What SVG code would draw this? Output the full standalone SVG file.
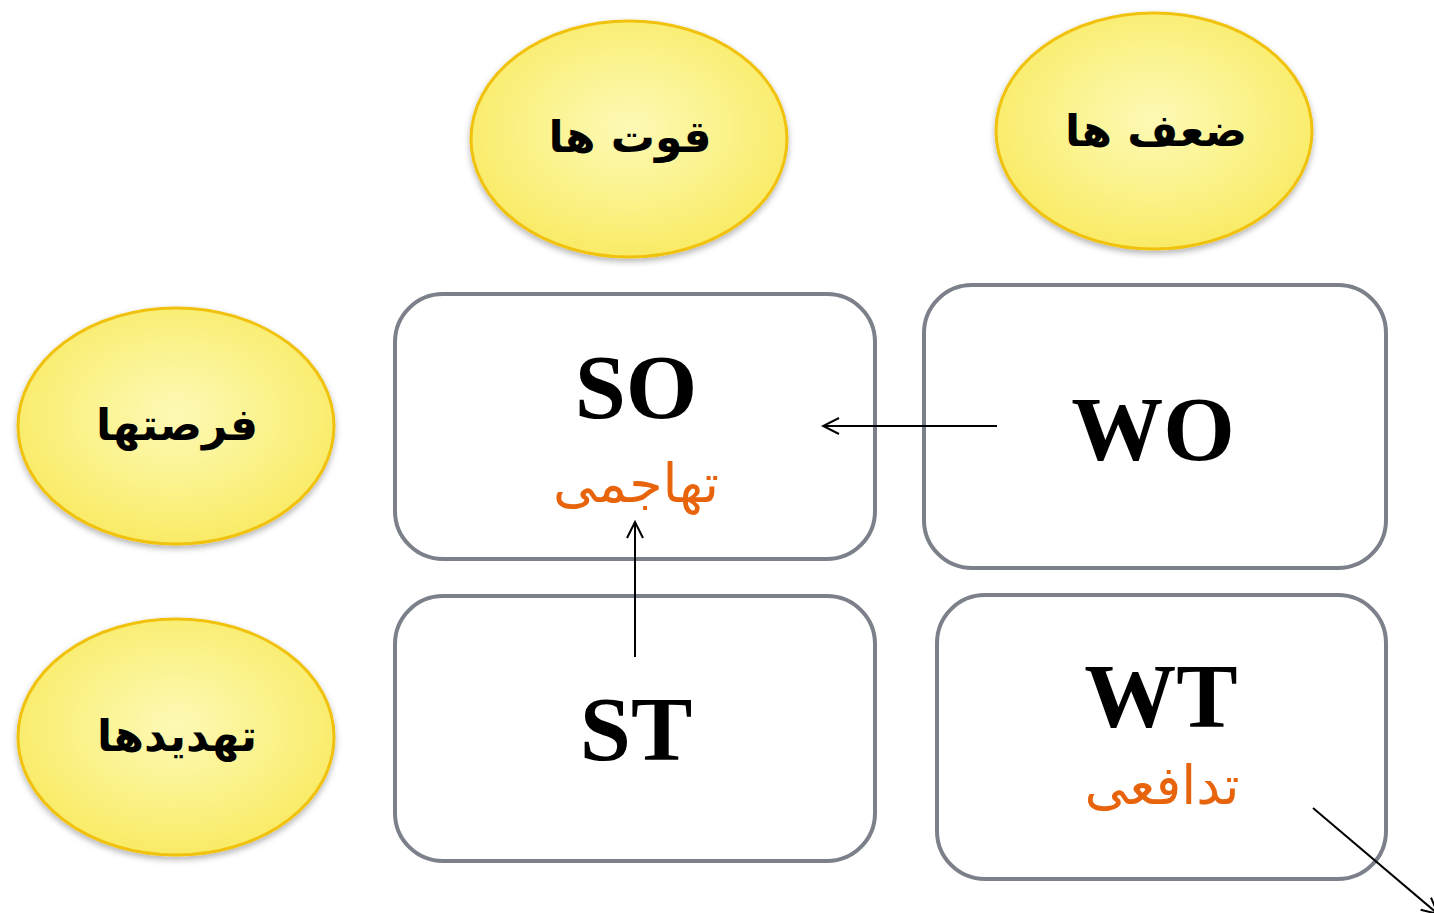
<svg xmlns="http://www.w3.org/2000/svg" width="1434" height="913" viewBox="0 0 1434 913">
  <style>
    .oval { fill: url(#ovalFill); stroke: #f1c20f; stroke-width: 3; filter: url(#soft); }
    .box { fill: #ffffff; stroke: #7b808a; stroke-width: 4; }
    .lbl { font-family: "DejaVu Sans", "Liberation Sans", sans-serif; font-weight: bold; font-size: 44px; fill: #000000; text-anchor: middle; direction: rtl; }
    .code { font-family: "Liberation Serif", "Times New Roman", serif; font-weight: bold; font-size: 92px; fill: #000000; text-anchor: middle; }
    .sub { font-family: "DejaVu Sans", "Liberation Serif", serif; font-size: 54px; fill: #e7640c; text-anchor: middle; direction: rtl; }
    .link { stroke: #000000; stroke-width: 2; fill: none; marker-end: url(#open); }
  </style>
  <defs>
    <radialGradient id="ovalFill" cx="50%" cy="45%" r="55%">
      <stop offset="0" stop-color="#fdf9b6"/>
      <stop offset="0.5" stop-color="#fbf38f"/>
      <stop offset="1" stop-color="#f9eb66"/>
    </radialGradient>
    <filter id="soft" x="-10%" y="-10%" width="120%" height="130%">
      <feDropShadow dx="0" dy="3" stdDeviation="3" flood-color="#000000" flood-opacity="0.3"/>
    </filter>
    <marker id="open" viewBox="0 0 20 20" refX="18" refY="10" markerWidth="20" markerHeight="20" markerUnits="userSpaceOnUse" orient="auto">
      <path d="M2,2 L18,10 L2,18" fill="none" stroke="#000000" stroke-width="2"/>
    </marker>
  </defs>

  <!-- column headers -->
  <g id="strengths">
    <ellipse class="oval" cx="629" cy="139" rx="158" ry="118"/>
    <text class="lbl" x="630" y="152">قوت ها</text>
  </g>
  <g id="weaknesses">
    <ellipse class="oval" cx="1154" cy="131" rx="158" ry="118"/>
    <text class="lbl" x="1156" y="146">ضعف ها</text>
  </g>

  <!-- row headers -->
  <g id="opportunities">
    <ellipse class="oval" cx="176" cy="426" rx="158" ry="118"/>
    <text class="lbl" x="177" y="440">فرصتها</text>
  </g>
  <g id="threats">
    <ellipse class="oval" cx="176" cy="737" rx="158" ry="118"/>
    <text class="lbl" x="177" y="751">تهدیدها</text>
  </g>

  <!-- strategy cells -->
  <g id="so">
    <rect class="box" x="395" y="294" width="480" height="265" rx="48"/>
    <text class="code" x="636" y="418">SO</text>
    <text class="sub" x="636" y="502">تهاجمی</text>
  </g>
  <g id="wo">
    <rect class="box" x="924" y="285" width="462" height="283" rx="48"/>
    <text class="code" x="1153" y="460">WO</text>
  </g>
  <g id="st">
    <rect class="box" x="395" y="596" width="480" height="265" rx="48"/>
    <text class="code" x="636" y="760">ST</text>
  </g>
  <g id="wt">
    <rect class="box" x="937" y="595" width="449" height="284" rx="48"/>
    <text class="code" x="1161" y="727">WT</text>
    <text class="sub" x="1162" y="804">تدافعی</text>
  </g>

  <!-- connectors -->
  <g id="connectors">
    <line class="link" x1="997" y1="426" x2="823" y2="426"/>
    <line class="link" x1="635" y1="657" x2="635" y2="522"/>
    <line class="link" x1="1313" y1="808" x2="1438" y2="914"/>
  </g>
</svg>
